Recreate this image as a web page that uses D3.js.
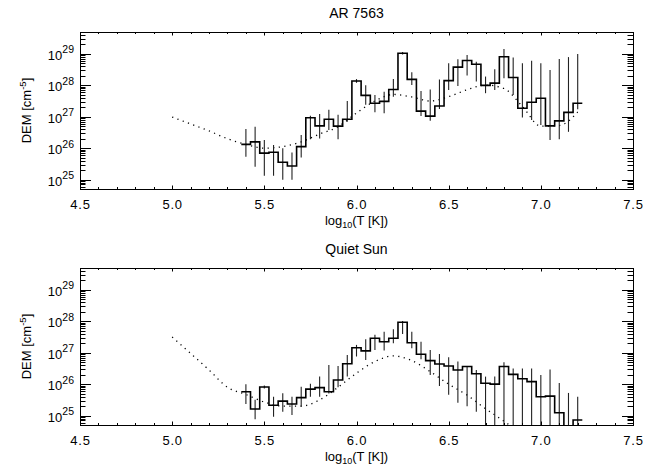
<!DOCTYPE html>
<html>
<head>
<meta charset="utf-8">
<script src="https://cdn.jsdelivr.net/npm/d3@7"></script>
<style>
    body { margin: 0; background: #fff; }
    text { font-family: "Liberation Sans", Arial, Helvetica, sans-serif; fill: #000; }
</style>
</head>
<body>
<div id="chart"></div>
<script>
(function(d3) {
    'use strict';

    // bin centres, log10(T)
    var logT = [5.40, 5.45, 5.50, 5.55, 5.60, 5.65, 5.70, 5.75, 5.80, 5.85,
                5.90, 5.95, 6.00, 6.05, 6.10, 6.15, 6.20, 6.25, 6.30, 6.35,
                6.40, 6.45, 6.50, 6.55, 6.60, 6.65, 6.70, 6.75, 6.80, 6.85,
                6.90, 6.95, 7.00, 7.05, 7.10, 7.15, 7.20];

    // AR 7563 : log10 DEM and error bar ends
    var arDem = [26.12, 26.20, 25.84, 25.87, 25.55, 25.43, 26.05, 26.97, 26.71, 26.92,
                 26.70, 26.92, 28.14, 27.68, 27.43, 27.49, 27.87, 29.02, 28.19, 27.18,
                 27.02, 27.34, 28.15, 28.58, 28.79, 28.67, 28.00, 28.07, 28.91, 28.25,
                 27.27, 27.46, 27.59, 26.71, 26.87, 27.14, 27.43];
    var arHi = [26.61, 26.68, 26.26, 26.10, 26.00, 25.86, 26.42, 27.03, 27.09, 27.22,
                27.06, 27.50, 28.20, 28.00, 27.69, 27.80, 28.20, 29.06, 28.42, 27.82,
                27.87, 28.19, 28.70, 28.83, 28.97, 28.75, 28.28, 28.51, 29.16, 28.89,
                28.70, 28.78, 28.70, 28.49, 28.84, 28.90, 29.00];
    var arLo = [25.73, 25.41, 25.12, 25.12, 24.99, 24.99, 25.70, 26.28, 26.31, 26.58,
                26.28, 26.84, 28.08, 27.38, 27.14, 27.11, 27.64, 28.98, 28.01, 27.02,
                26.87, 27.25, 27.85, 27.98, 28.31, 28.12, 27.75, 27.85, 28.23, 27.69,
                26.98, 26.90, 26.74, 26.26, 26.28, 26.52, 27.24];

    // Quiet Sun
    var qsDem = [25.76, 25.21, 25.91, 25.33, 25.46, 25.37, 25.57, 25.84, 25.89, 25.76,
                 26.13, 26.65, 27.16, 27.06, 27.46, 27.35, 27.46, 27.97, 27.32, 26.95,
                 26.75, 26.64, 26.58, 26.45, 26.56, 26.33, 26.03, 26.00, 26.56, 26.31,
                 26.17, 26.08, 25.60, 25.62, 25.09, 24.60, 24.86];
    var qsHi = [26.00, 25.50, 25.96, 25.60, 25.71, 25.60, 25.92, 26.01, 26.24, 26.61,
                26.58, 26.93, 27.25, 27.43, 27.57, 27.67, 27.75, 28.01, 27.67, 27.35,
                27.09, 26.96, 26.86, 26.72, 26.58, 26.45, 26.24, 26.24, 26.70, 26.50,
                26.50, 26.50, 26.29, 26.47, 26.04, 25.72, 25.60];
    var qsLo = [25.37, 24.88, 25.86, 24.96, 25.12, 25.02, 25.28, 25.60, 25.60, 25.70,
                25.90, 26.24, 26.88, 26.77, 27.09, 27.07, 27.30, 27.60, 27.14, 26.79,
                26.29, 25.94, 25.66, 25.41, 25.30, 25.12, 24.00, 24.00, 24.00, 24.00,
                24.00, 24.00, 24.00, 24.00, 24.00, 24.00, 24.00];

    // model curves (dotted)
    var modelT = [5.0, 5.1, 5.2, 5.3, 5.4, 5.5, 5.6, 5.7, 5.8, 5.9, 6.0,
                  6.1, 6.2, 6.3, 6.4, 6.5, 6.6, 6.7, 6.8, 6.9, 7.0, 7.1, 7.2];
    var arModel = [26.99, 26.77, 26.55, 26.30, 26.12, 26.00, 26.05, 26.20, 26.45, 26.68, 27.12,
                   27.50, 27.71, 27.63, 27.50, 27.64, 27.86, 28.01, 27.90, 27.33, 26.70, 26.72, 27.15];
    var qsModel = [27.50, 26.98, 26.45, 25.90, 25.67, 25.43, 25.30, 25.30, 25.50, 25.90, 26.35,
                   26.72, 26.90, 26.75, 26.40, 26.00, 25.65, 25.22, 24.82, 24.40, 24.00, 23.60, 23.20];

    var xTickLabels = ['4.5', '5.0', '5.5', '6.0', '6.5', '7.0', '7.5'];
    var yPowers = [25, 26, 27, 28, 29];

    var settings = {
        width: 656,
        height: 466,
        left: 80,
        right: 633,
        plotHeight: 157,
        halfBin: 0.025
    };

    var panels = [
        { title: 'AR 7563', top: 32, dem: arDem, hi: arHi, lo: arLo, model: arModel },
        { title: 'Quiet Sun', top: 268, dem: qsDem, hi: qsHi, lo: qsLo, model: qsModel }
    ];

    var svg = d3.select('#chart').append('svg')
        .attr('width', settings.width)
        .attr('height', settings.height);

    var x = d3.scaleLinear().domain([4.5, 7.5]).range([settings.left, settings.right]);

    panels.forEach(function(p, i) {
        drawPanel(p, i);
    });

    function drawPanel(p, idx) {
        var top = p.top;
        var bottom = top + settings.plotHeight;
        var y = d3.scaleLog().domain([5e24, 5e29]).range([bottom, top]);
        var ly = function(v) { return y(Math.pow(10, v)); };

        var g = svg.append('g');
        var clipId = 'clip' + idx;

        svg.append('clipPath').attr('id', clipId)
            .append('rect')
            .attr('x', settings.left).attr('y', top)
            .attr('width', settings.right - settings.left)
            .attr('height', settings.plotHeight);

        var plot = g.append('g').attr('clip-path', 'url(#' + clipId + ')');

        // model (dotted)
        var modelLine = d3.line()
            .curve(d3.curveMonotoneX)
            .x(function(d, i) { return x(modelT[i]); })
            .y(function(d) { return ly(d); });

        plot.append('path')
            .attr('d', modelLine(p.model))
            .attr('fill', 'none')
            .attr('stroke', '#000')
            .attr('stroke-width', 1.3)
            .attr('stroke-dasharray', '1.2,4.4');

        // error bars
        plot.selectAll('line.err')
            .data(logT)
            .enter()
            .append('line')
            .attr('class', 'err')
            .attr('x1', function(d) { return x(d); })
            .attr('x2', function(d) { return x(d); })
            .attr('y1', function(d, i) { return ly(p.hi[i]); })
            .attr('y2', function(d, i) { return ly(p.lo[i]); })
            .attr('stroke', '#222')
            .attr('stroke-width', 1.1);

        // histogram
        var steps = logT.map(function(t, i) {
            return [t - settings.halfBin, p.dem[i]];
        });
        steps.push([logT[logT.length - 1] + settings.halfBin, p.dem[p.dem.length - 1]]);

        var histLine = d3.line()
            .curve(d3.curveStepAfter)
            .x(function(d) { return x(d[0]); })
            .y(function(d) { return ly(d[1]); });

        plot.append('path')
            .attr('d', histLine(steps))
            .attr('fill', 'none')
            .attr('stroke', '#000')
            .attr('stroke-width', 1.6);

        // frame
        g.append('rect')
            .attr('x', settings.left + 0.5).attr('y', top + 0.5)
            .attr('width', settings.right - settings.left)
            .attr('height', settings.plotHeight)
            .attr('fill', 'none')
            .attr('stroke', '#000')
            .attr('stroke-width', 1);

        // x ticks
        var xMinor = x.ticks(30);
        var xMajor = x.ticks(6);
        var ticks = g.append('g').attr('stroke', '#000').attr('stroke-width', 1);

        xMinor.forEach(function(t) {
            var len = xMajor.some(function(m) { return Math.abs(m - t) < 1e-6; }) ? 3.5 : 2;
            var px = Math.round(x(t)) + 0.5;
            ticks.append('line').attr('x1', px).attr('x2', px)
                .attr('y1', bottom).attr('y2', bottom - len);
            ticks.append('line').attr('x1', px).attr('x2', px)
                .attr('y1', top).attr('y2', top + len);
        });

        // y ticks
        y.ticks().forEach(function(v) {
            var lg = Math.log10(v);
            var isMajor = Math.abs(lg - Math.round(lg)) < 1e-6;
            var len = isMajor ? 11 : 5.5;
            var py = Math.round(y(v)) + 0.5;
            ticks.append('line').attr('x1', settings.left).attr('x2', settings.left + len)
                .attr('y1', py).attr('y2', py);
            ticks.append('line').attr('x1', settings.right).attr('x2', settings.right - len)
                .attr('y1', py).attr('y2', py);
        });

        // x tick labels
        g.selectAll('text.xl')
            .data(xTickLabels)
            .enter()
            .append('text')
            .attr('class', 'xl')
            .attr('x', function(d) { return x(+d) + 0.5; })
            .attr('y', bottom + 19.5)
            .attr('text-anchor', 'middle')
            .style('font-size', '13px')
            .style('letter-spacing', '0.8px')
            .text(function(d) { return d; });

        // y tick labels
        var yl = g.selectAll('text.yl')
            .data(yPowers)
            .enter()
            .append('text')
            .attr('class', 'yl')
            .attr('x', settings.left - 6)
            .attr('y', function(d) { return y(Math.pow(10, d)) + 6; })
            .attr('text-anchor', 'end')
            .style('font-size', '13px');
        yl.append('tspan').text('10');
        yl.append('tspan')
            .attr('dy', -6.5)
            .style('font-size', '10.5px')
            .text(function(d) { return d; });

        // titles
        g.append('text')
            .attr('x', (settings.left + settings.right) / 2)
            .attr('y', top - 14)
            .attr('text-anchor', 'middle')
            .style('font-size', '14px')
            .text(p.title);

        var xt = g.append('text')
            .attr('x', (settings.left + settings.right) / 2)
            .attr('y', bottom + 35.5)
            .attr('text-anchor', 'middle')
            .style('font-size', '13px');
        xt.append('tspan').text('log');
        xt.append('tspan').attr('dy', 3).style('font-size', '9px').text('10');
        xt.append('tspan').attr('dy', -3).text('(T [K])');

        var yt = g.append('text')
            .attr('transform', 'translate(31,' + ((top + bottom) / 2) + ') rotate(-90)')
            .attr('text-anchor', 'middle')
            .style('font-size', '13px');
        yt.append('tspan').text('DEM [cm');
        yt.append('tspan').attr('dy', -5).style('font-size', '9.5px').text('-5');
        yt.append('tspan').attr('dy', 5).text(']');
    }

})(window.d3);
</script>
</body>
</html>
